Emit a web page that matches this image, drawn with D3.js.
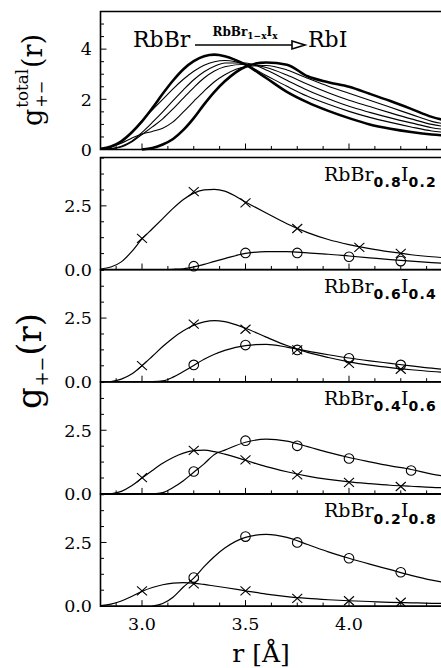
<!DOCTYPE html>
<html><head><meta charset="utf-8">
<script src="https://cdn.jsdelivr.net/npm/d3@7"></script>
<style>body{margin:0;background:#fff}text{font-family:"DejaVu Serif",serif;fill:#000}</style>
</head><body>
<svg id="c" width="441" height="668"></svg>
<script>
// ---------- data ----------
const rGrid = [2.80,2.85,2.90,2.95,3.00,3.05,3.10,3.15,3.20,3.25,3.30,3.35,3.40,3.50,3.60,3.70,3.80,3.90,4.00,4.10,4.20,4.30,4.40,4.50];

// top panel: total g+-(r) for RbBr(1-x)I(x), x = 0, 0.2, 0.4, 0.6, 0.8, 1
const totalRbBr = [0.03,0.12,0.33,0.68,1.12,1.65,2.22,2.75,3.20,3.52,3.72,3.78,3.72,3.38,2.85,2.30,1.88,1.54,1.25,1.00,0.83,0.70,0.60,0.54];
const total02   = [0.02,0.10,0.30,0.68,1.15,1.58,2.00,2.42,2.80,3.12,3.36,3.50,3.55,3.38,2.95,2.52,2.12,1.80,1.52,1.28,1.08,0.90,0.74,0.66];
const total04   = [0.01,0.04,0.13,0.33,0.68,1.08,1.50,1.95,2.38,2.78,3.10,3.32,3.45,3.45,3.17,2.76,2.36,2.02,1.72,1.48,1.26,1.06,0.87,0.77];
const total06   = [0.01,0.03,0.10,0.30,0.60,0.90,1.22,1.62,2.05,2.47,2.85,3.13,3.30,3.40,3.27,2.97,2.60,2.26,1.96,1.71,1.46,1.22,1.00,0.88];
const total08   = [0.02,0.10,0.25,0.45,0.62,0.72,0.85,1.10,1.50,1.92,2.33,2.70,2.98,3.30,3.35,3.17,2.84,2.52,2.24,1.96,1.68,1.40,1.12,0.98];
const totalRbI  = [null,null,null,null,0.00,0.06,0.20,0.42,0.78,1.25,1.80,2.30,2.72,3.30,3.47,3.38,2.92,2.68,2.50,2.22,1.93,1.62,1.30,1.10];

// partial curves (x: Rb-Br, o: Rb-I)
const br02 = [0.02,0.10,0.30,0.70,1.20,1.60,2.00,2.40,2.75,3.00,3.13,3.15,3.08,2.65,2.22,1.80,1.45,1.18,0.98,0.82,0.69,0.58,0.50,0.44];
const i02  = [null,null,null,null,null,null,0.00,0.01,0.03,0.10,0.20,0.32,0.43,0.63,0.70,0.70,0.65,0.60,0.53,0.46,0.39,0.33,0.27,0.22];
const br04 = [null,0.00,0.10,0.30,0.63,1.00,1.38,1.72,2.00,2.22,2.35,2.40,2.36,2.10,1.75,1.42,1.15,0.95,0.78,0.65,0.55,0.47,0.40,0.35];
const i04  = [null,null,null,null,null,0.00,0.03,0.18,0.40,0.64,0.88,1.08,1.23,1.42,1.47,1.36,1.20,1.06,0.93,0.82,0.72,0.62,0.53,0.46];
const br06 = [null,0.00,0.10,0.32,0.62,0.92,1.20,1.43,1.60,1.70,1.72,1.66,1.56,1.32,1.07,0.87,0.70,0.57,0.47,0.40,0.34,0.30,0.26,0.24];
const i06  = [null,null,null,null,null,0.00,0.05,0.25,0.52,0.85,1.18,1.55,1.72,2.03,2.15,2.07,1.86,1.63,1.43,1.26,1.10,0.96,0.78,0.66];
const br08 = [0.02,0.08,0.20,0.38,0.58,0.73,0.84,0.90,0.92,0.90,0.85,0.79,0.73,0.60,0.47,0.37,0.30,0.25,0.21,0.18,0.15,0.13,0.11,0.10];
const i08  = [null,null,null,null,null,0.00,0.10,0.35,0.75,1.10,1.55,1.95,2.28,2.70,2.82,2.70,2.42,2.13,1.88,1.65,1.43,1.21,1.02,0.88];

// simulation points
const brPtsR02 = [3.0,3.25,3.5,3.75,4.05,4.25], brPtsV02 = [1.22,3.06,2.62,1.61,0.87,0.63];
const iPtsR02  = [3.25,3.5,3.75,4.0,4.25],      iPtsV02  = [0.13,0.65,0.65,0.50,0.33];
const brPtsR04 = [3.0,3.25,3.5,3.75,4.0,4.25],  brPtsV04 = [0.63,2.26,2.06,1.25,0.72,0.49];
const iPtsR04  = [3.25,3.5,3.75,4.0,4.25],      iPtsV04  = [0.66,1.44,1.25,0.92,0.66];
const brPtsR06 = [3.0,3.25,3.5,3.75,4.0,4.25],  brPtsV06 = [0.64,1.71,1.34,0.75,0.45,0.29];
const iPtsR06  = [3.25,3.5,3.75,4.0,4.3],       iPtsV06  = [0.88,2.09,1.89,1.39,0.92];
const brPtsR08 = [3.0,3.25,3.5,3.75,4.0,4.25],  brPtsV08 = [0.60,0.87,0.60,0.30,0.21,0.15];
const iPtsR08  = [3.25,3.5,3.75,4.0,4.25],      iPtsV08  = [1.12,2.73,2.50,1.88,1.33];

const panelLabels = [["0.8","0.2"],["0.6","0.4"],["0.4","0.6"],["0.2","0.8"]];
const xTickLabels = [3.0, 3.5, 4.0];
const topTicks = [0, 2, 4];
const lowTicks = [0.0, 2.5];

// ---------- layout ----------
const svg = d3.select("#c");
const x = d3.scaleLinear([2.8, 4.5], [100.6, 452.5]);
const L = 100.5, R = 452;

const topY = d3.scaleLinear([0, 5.5], [149.5, 11.5]);
const lowBottoms = [269.5, 381.7, 493.9, 606.1];
const lowY = lowBottoms.map(b => d3.scaleLinear([0, 4.4], [b, b - 112]));

function frame(y) {
  const [b, t] = y.range();
  const g = svg.append("g");
  const minor = d3.range(2.875, 4.5, 0.125);
  g.selectAll(".xt").data(minor).join("line")
    .attr("x1", d => x(d)).attr("x2", d => x(d))
    .attr("y1", b).attr("y2", d => b - (Math.abs(d*2 - Math.round(d*2)) < 1e-6 ? 6 : 3.5))
    .attr("stroke", "#000").attr("stroke-width", 1);
  const d1 = y.domain()[1];
  const step = d1 > 5 ? 0.5 : 0.625;
  const major = d1 > 5 ? 2 : 2.5;
  const yt = d3.range(0, d1, step);
  g.selectAll(".yt").data(yt).join("line")
    .attr("x1", L).attr("x2", d => L + (Math.abs(d/major - Math.round(d/major)) < 1e-6 ? 6 : 3.5))
    .attr("y1", d => y(d)).attr("y2", d => y(d))
    .attr("stroke", "#000").attr("stroke-width", 1);
  g.append("path").attr("d", `M${R},${t}H${L}V${b}H${R}`)
    .attr("fill", "none").attr("stroke", "#000").attr("stroke-width", 1.6);
}

function curve(y, vals, w) {
  const line = d3.line()
    .defined(d => d[1] != null)
    .x(d => x(d[0])).y(d => y(d[1]))
    .curve(d3.curveMonotoneX);
  svg.append("path").datum(rGrid.map((r, i) => [r, vals[i]]))
    .attr("d", line).attr("fill", "none").attr("stroke", "#000")
    .attr("stroke-width", w).attr("stroke-linejoin", "round");
}

function crosses(y, rs, vs) {
  svg.append("g").selectAll("path").data(rs.map((r, i) => [r, vs[i]])).join("path")
    .attr("d", d => { const cx = x(d[0]), cy = y(d[1]);
      return `M${cx-5},${cy-4.5}L${cx+5},${cy+4.5}M${cx-5},${cy+4.5}L${cx+5},${cy-4.5}`; })
    .attr("stroke", "#000").attr("stroke-width", 1.1).attr("fill", "none");
}
function circles(y, rs, vs) {
  svg.append("g").selectAll("circle").data(rs.map((r, i) => [r, vs[i]])).join("circle")
    .attr("cx", d => x(d[0])).attr("cy", d => y(d[1])).attr("r", 4.8)
    .attr("fill", "none").attr("stroke", "#000").attr("stroke-width", 1.1);
}

// top panel
frame(topY);
[total02, total04, total06, total08].forEach(v => curve(topY, v, 1.1));
curve(topY, totalRbBr, 2.6);
curve(topY, totalRbI, 2.6);
svg.append("g").selectAll("text").data(topTicks).join("text")
  .attr("x", 92).attr("y", d => topY(d)).attr("dy", "0.36em")
  .attr("text-anchor", "end").attr("font-size", 17.5).text(d => d);

// lower panels
const brs = [br02, br04, br06, br08], is = [i02, i04, i06, i08];
const bR = [brPtsR02, brPtsR04, brPtsR06, brPtsR08], bV = [brPtsV02, brPtsV04, brPtsV06, brPtsV08];
const iR = [iPtsR02, iPtsR04, iPtsR06, iPtsR08], iV = [iPtsV02, iPtsV04, iPtsV06, iPtsV08];
lowY.forEach((y, k) => {
  frame(y);
  curve(y, brs[k], 1.2);
  curve(y, is[k], 1.2);
  crosses(y, bR[k], bV[k]);
  circles(y, iR[k], iV[k]);
  svg.append("g").selectAll("text").data(lowTicks).join("text")
    .attr("x", 92).attr("y", d => y(d)).attr("dy", "0.36em")
    .attr("text-anchor", "end").attr("font-size", 17.5).text(d => d.toFixed(1));
  const t = svg.append("text").attr("x", 324).attr("y", y.range()[1] + 23).attr("font-size", 19);
  t.append("tspan").text("RbBr");
  t.append("tspan").attr("font-size", 14).attr("font-family", "DejaVu Sans")
    .attr("font-weight", "bold").attr("letter-spacing", 1.2).attr("dy", 6.5).text(panelLabels[k][0]);
  t.append("tspan").attr("dy", -6.5).attr("dx", -1).text("I");
  t.append("tspan").attr("font-size", 14).attr("font-family", "DejaVu Sans")
    .attr("font-weight", "bold").attr("letter-spacing", 1.2).attr("dy", 6.5).text(panelLabels[k][1]);
});

// x tick labels + axis title
svg.append("g").selectAll("text").data(xTickLabels).join("text")
  .attr("x", d => x(d)).attr("y", 629.5).attr("text-anchor", "middle")
  .attr("font-size", 17.5).text(d => d.toFixed(1));
svg.append("text").attr("x", 261).attr("y", 662).attr("text-anchor", "middle")
  .attr("font-size", 25).text("r [Å]");

// title
svg.append("text").attr("x", 133).attr("y", 46.5).attr("font-size", 22).text("RbBr");
svg.append("text").attr("x", 308).attr("y", 46.5).attr("font-size", 22).text("RbI");
svg.append("line").attr("x1", 195).attr("x2", 292).attr("y1", 45).attr("y2", 45)
  .attr("stroke", "#000").attr("stroke-width", 1.6);
svg.append("path").attr("d", "M292,41L305,45L292,49Z").attr("fill", "#fff")
  .attr("stroke", "#000").attr("stroke-width", 1.6);
const at = svg.append("text").attr("x", 245).attr("y", 36).attr("text-anchor", "middle")
  .attr("font-size", 12).attr("font-weight", "bold");
at.append("tspan").text("RbBr");
at.append("tspan").attr("font-size", 9).attr("dy", 3).text("1−x");
at.append("tspan").attr("dy", -3).text("I");
at.append("tspan").attr("font-size", 9).attr("dy", 3).text("x");

// rotated y labels
function yLabel(cx, cy, size, sup, sub, subDy, subScale) {
  const g = svg.append("g");
  const inner = g.append("g");
  const tg = inner.append("text").attr("font-size", size).text("g");
  const wg = tg.node().getComputedTextLength();
  let ws = 0;
  if (sup) {
    const s = inner.append("text").attr("x", wg + 1).attr("y", -size * 0.52)
      .attr("font-size", size * 0.62).text(sup);
    ws = s.node().getComputedTextLength();
  }
  const b = inner.append("text").attr("x", wg + 1).attr("y", size * subDy)
    .attr("font-size", size * subScale).text(sub);
  ws = Math.max(ws, b.node().getComputedTextLength());
  const tr = inner.append("text").attr("x", wg + ws + 2).attr("font-size", size).text("(r)");
  const total = wg + ws + 2 + tr.node().getComputedTextLength();
  inner.attr("transform", `translate(${-total / 2},0)`);
  g.attr("transform", `translate(${cx},${cy}) rotate(-90)`);
}
yLabel(42, 80, 27, "total", "+−", 0.17, 0.6);
yLabel(41, 361, 34, null, "+−", 0.2, 0.52);
</script>
</body></html>
